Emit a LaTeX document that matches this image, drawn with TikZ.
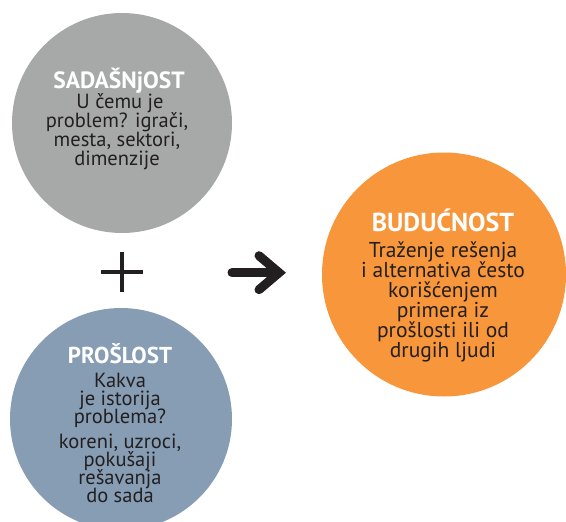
\documentclass[tikz,border=0pt]{standalone}
\usepackage{fontspec}
\setmainfont{PT Sans}
\definecolor{pgray}{HTML}{A7A9A8}
\definecolor{pblue}{HTML}{869DB4}
\definecolor{porange}{HTML}{F7963B}
\definecolor{textdark}{HTML}{231F20}
\begin{document}
\begin{tikzpicture}[x=1pt,y=-1pt,
  disc/.style={circle, inner sep=0pt, minimum size=#1},
  ttl/.style={text=white, inner sep=0pt, anchor=base, font={\fontsize{#1}{#1}\selectfont\bfseries}},
  body/.style={text=textdark, inner sep=0pt, anchor=base, font={\fontsize{#1}{#1}\selectfont}},
  sign/.style={draw=textdark, line width=#1},
]
\useasboundingbox (0,0) rectangle (566,522);
% circles
\node[disc=220pt, fill=pgray] (sad) at (122,123) {};
\node[disc=222pt, fill=pblue] (pro) at (121,419) {};
\node[disc=244pt, fill=porange] (bud) at (444,274.5) {};
% SADASNjOST
\node[ttl=23.5] (sadT) at (119,88) {SADAŠNjOST};
\node[body=20.5] (sad1) at (120,108.5) {U čemu je};
\node[body=20.5] (sad2) at (117,127.5) {problem? igrači,};
\node[body=20.5] (sad3) at (117,146.5) {mesta, sektori,};
\node[body=20.5] (sad4) at (117,165.5) {dimenzije};
% PROSLOST
\node[ttl=23] (proT) at (120,363) {PROŠLOST};
\node[body=20.5] (pro1) at (120,387) {Kakva};
\node[body=20.5] (pro2) at (120,405) {je istorija};
\node[body=20.5] (pro3) at (120,423) {problema?};
\node[body=20.5] (pro4) at (120,448) {koreni, uzroci,};
\node[body=20.5] (pro5) at (120,466) {pokušaji};
\node[body=20.5] (pro6) at (120,484) {rešavanja};
\node[body=20.5] (pro7) at (120,502) {do sada};
% BUDUCNOST
\node[ttl=26] (budT) at (443,231) {BUDUĆNOST};
\node[body=21.5] (bud1) at (443,257) {Traženje rešenja};
\node[body=21.5] (bud2) at (443,277) {i alternativa često};
\node[body=21.5] (bud3) at (443,297) {korišćenjem};
\node[body=21.5] (bud4) at (443,317) {primera iz};
\node[body=21.5] (bud5) at (443,337) {prošlosti ili od};
\node[body=21.5] (bud6) at (443,357) {drugih ljudi};
% plus sign
\coordinate (plusC) at (122,272);
\draw[sign=4.5pt] ([xshift=-21pt]plusC) -- ([xshift=21pt]plusC);
\draw[sign=4.5pt] ([yshift=-20pt]plusC) -- ([yshift=20pt]plusC);
% arrow
\coordinate (arrT) at (232,272.7);
\coordinate (arrH) at (279,272.7);
\draw[sign=9pt, line cap=round] (arrT) -- ([xshift=-2pt]arrH);
\draw[sign=9pt, line cap=round, line join=miter] ([xshift=-20pt,yshift=-17pt]arrH) -- (arrH) -- ([xshift=-20pt,yshift=17pt]arrH);
\end{tikzpicture}
\end{document}
